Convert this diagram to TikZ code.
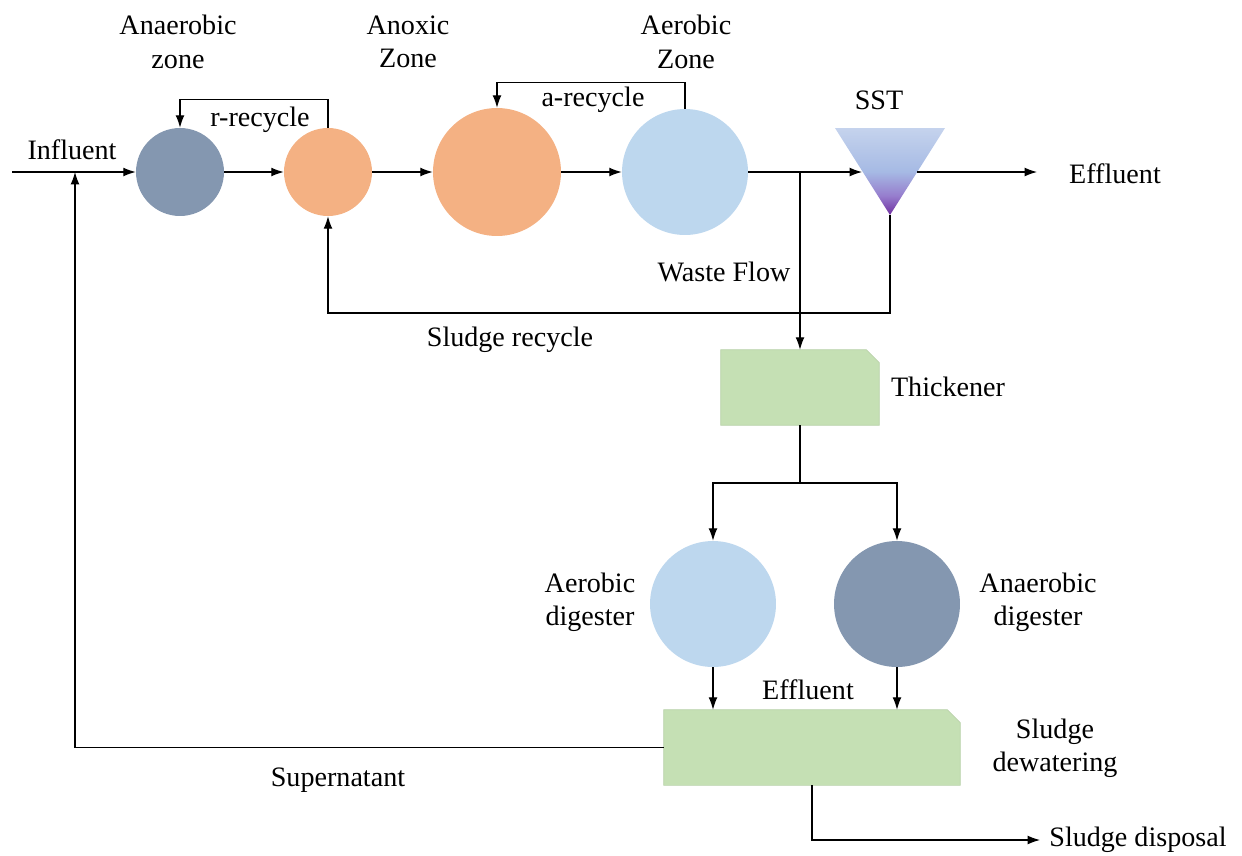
\documentclass[tikz,border=0pt]{standalone}
\usepackage{fontspec}
\setmainfont{Liberation Serif}
\usepackage{xcolor}
\usetikzlibrary{arrows.meta,calc}

\definecolor{slate}{RGB}{132,151,176}
\definecolor{peach}{RGB}{244,177,131}
\definecolor{sky}{RGB}{189,215,238}
\definecolor{sage}{RGB}{197,224,180}
\definecolor{sstpurple}{RGB}{112,48,160}
\definecolor{sstlav}{RGB}{150,125,205}
\definecolor{sstmid}{RGB}{166,186,228}
\definecolor{sstblue}{RGB}{197,211,237}
\pgfdeclareverticalshading{sstshade}{100bp}{color(0bp)=(sstpurple); color(25bp)=(sstpurple); color(36bp)=(sstlav); color(50bp)=(sstmid); color(75bp)=(sstblue); color(100bp)=(sstblue)}

\begin{document}
\begin{tikzpicture}[x=0.02cm,y=-0.02cm,font=\fontsize{16}{19}\selectfont,
  flow/.style={-{Latex[length=7pt,width=5pt]},line width=0.6pt},
  zone/.style={circle,inner sep=0pt},
  tank/.style={rectangle,inner sep=0pt},
  lbl/.style={align=center}]
  \useasboundingbox (0,0) rectangle (1242,856);

  % reactor line
  \node[zone,fill=slate,minimum size=1.76cm] (ana) at (180,172) {};
  \node[zone,fill=peach,minimum size=1.76cm] (anx) at (328,172) {};
  \node[zone,fill=peach,minimum size=2.56cm] (anxbig) at (497,172) {};
  \node[zone,fill=sky,minimum size=2.52cm] (aer) at (685,172) {};

  % settling tank
  \shade[shading=sstshade] (835,128) -- (945,128) -- (890,215) -- cycle;
  \coordinate (sstin) at (862,172);
  \coordinate (sstout) at (917,172);
  \coordinate (sstapex) at (890,215);

  % sludge treatment
  \node[tank,minimum width=3.16cm,minimum height=1.5cm] (thk) at (800,387.5) {};
  \node[zone,fill=sky,minimum size=2.52cm] (dig1) at (713,604) {};
  \node[zone,fill=slate,minimum size=2.52cm] (dig2) at (897,604) {};
  \node[tank,minimum width=5.92cm,minimum height=1.5cm] (dew) at (812,747.5) {};
  \foreach \t in {thk,dew}
    \filldraw[fill=sage,draw=sage!85!gray,line width=0.4pt]
      (\t.south west) -- (\t.north west) -- ($(\t.north east)+(-13,0)$)
      -- ($(\t.north east)+(0,13)$) -- (\t.south east) -- cycle;

  % free ends
  \coordinate (in) at (12,172);
  \coordinate (mix) at (75,172);
  \coordinate (branch) at (800,172);
  \coordinate (out) at (1037,172);
  \coordinate (split) at (800,483);
  \coordinate (disp) at (1040,840);

  % connectors
  \draw[flow] (in) -- (ana);
  \draw[flow] (ana) -- (anx);
  \draw[flow] (anx) -- (anxbig);
  \draw[flow] (anxbig) -- (aer);
  \draw[flow] (aer) -- (sstin);
  \draw[flow] (sstout) -- (out);
  \draw[flow] (anx.north) -- ++(0,-28) -| (ana.north);
  \draw[flow] (aer.north) -- ++(0,-26) -| (anxbig.north);
  \draw[flow] (sstapex) -- ++(0,98) -| (anx.south);
  \draw[flow] (branch) -- (thk.north);
  \draw[line width=1.3pt] (thk.south) -- (split);
  \draw[flow] (split) -| (dig1.north);
  \draw[flow] (split) -| (dig2.north);
  \draw[flow] (dig1.south) -- (dig1.south |- dew.north);
  \draw[flow] (dig2.south) -- (dig2.south |- dew.north);
  \draw[flow] (dew.west) -| (mix);
  \draw[flow] (dew.south) |- (disp);

  % labels
  \node[lbl] (lana) at (178,42) {Anaerobic\\zone};
  \node[lbl] (lanx) at (408,42) {Anoxic\\Zone};
  \node[lbl] (laer) at (686,42) {Aerobic\\Zone};
  \node (lr) at (260,120) {r-recycle};
  \node (la) at (593,100) {a-recycle};
  \node (lin) at (72,150) {Influent};
  \node (lsst) at (879,100) {SST};
  \node (lout) at (1115,174) {Effluent};
  \node (lwaste) at (724,272) {Waste Flow};
  \node (lsr) at (510,340) {Sludge recycle};
  \node (lthk) at (948,387) {Thickener};
  \node[lbl] (ldig1) at (590,602) {Aerobic\\digester};
  \node[lbl] (ldig2) at (1038,602) {Anaerobic\\digester};
  \node (leff) at (808,690) {Effluent};
  \node[lbl] (ldew) at (1055,748) {Sludge\\dewatering};
  \node (lsup) at (338,780) {Supernatant};
  \node (ldisp) at (1138,840) {Sludge disposal};
\end{tikzpicture}
\end{document}
